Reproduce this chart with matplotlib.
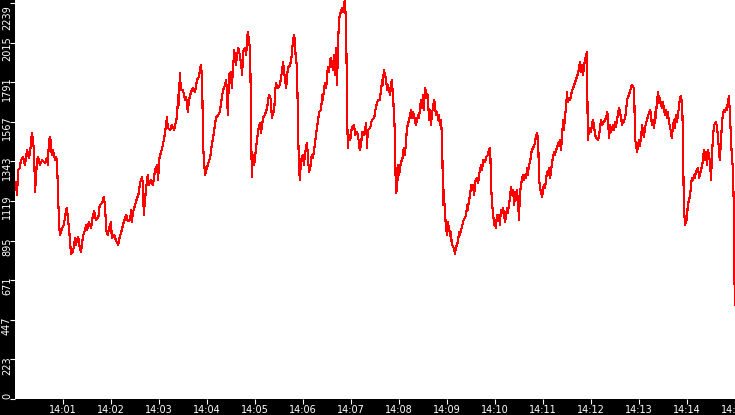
import matplotlib
matplotlib.use("Agg")
import matplotlib.pyplot as plt
from matplotlib.transforms import offset_copy

# seconds after 14:00:00 and traded value
secs = [
    0, 1, 2.5, 4, 6, 7.5, 10, 12.5, 15, 17.5, 20, 21, 22.5, 24, 25, 26, 27.5, 29, 31, 34,
    37.5, 40, 41, 42.5, 44, 46, 47.5, 50, 51, 52.5, 54, 55, 56, 59, 61, 64, 65, 66, 67.5, 70,
    72.5, 75, 76, 77.5, 79, 81, 82.5, 85, 87.5, 89, 90, 92.5, 95, 97.5, 99, 101, 104, 106, 109, 111,
    112.5, 114, 116, 117.5, 120, 121, 124, 126, 129, 130, 132.5, 135, 136, 139, 141, 144, 145, 146, 147.5, 150,
    152.5, 155,
    156, 159, 160, 161, 162.5, 164, 166, 167.5, 170, 172.5, 175, 177.5, 179, 180, 182.5, 184, 186, 187.5,
    190, 191, 194, 196, 199, 201, 202.5, 204, 205, 206, 207.5, 210, 212.5, 214, 216, 217.5, 220, 222.5,
    225, 227.5, 230, 231, 232.5, 234, 235, 237.5, 239, 241, 244, 246, 247.5, 250, 251, 254, 256, 259,
    260, 262.5, 264, 265, 266, 267.5, 270, 271, 274, 275, 276, 279, 281, 282.5, 284, 285, 287.5, 289,
    290, 291, 292.5, 294, 295, 296, 297.5, 299, 301, 304, 306,
    307.5, 310, 312.5, 315, 317.5, 320, 321, 324, 326, 329, 331, 334, 335, 337.5, 339, 341, 344, 345,
    346, 347.5, 349, 350, 351, 352.5, 354, 355, 356, 357.5, 360, 361, 364, 365, 367.5, 369, 371, 372.5,
    375, 377.5, 379, 380, 382.5, 384, 385, 386, 387.5, 389, 391, 392.5, 394, 395, 397.5, 399, 400, 401,
    402.5, 404, 405, 406, 409, 410, 411, 412.5, 414, 415, 416, 417.5, 419, 421, 424, 425, 427.5, 429,
    431, 432.5, 434, 436, 439, 440, 441, 444, 446, 449, 450, 452.5, 454,
    456, 457.5, 459, 460, 461, 464, 465, 466, 469, 470, 471, 472.5, 475, 476, 477.5, 479, 480, 482.5,
    484, 486, 487.5, 490, 491, 494, 495, 496, 497.5, 500, 501, 504, 505, 507.5, 509, 510, 511, 512.5,
    514, 515, 516, 517.5, 519, 520, 521, 524, 525, 526, 527.5, 529, 530, 531, 532.5, 534, 535, 536,
    537.5, 539, 540, 541, 542.5, 544, 545, 546, 547.5, 549, 550, 551, 552.5, 554, 555, 556, 559, 560,
    561, 564, 565, 566, 567.5, 569, 570, 571, 572.5, 574, 575, 577.5, 579, 580, 582.5, 584, 585, 587.5,
    589, 591, 592.5, 594, 595, 596, 597.5,
    599, 600, 601, 602.5, 604, 605, 606, 607.5, 609, 610, 611, 612.5, 614, 615, 616, 617.5, 619, 620,
    621, 622.5, 624, 625, 626, 627.5, 629, 630, 631, 632.5, 634, 635, 636, 637.5, 639, 640, 641, 642.5,
    644, 645, 646, 647.5, 649, 650, 651, 652.5, 654, 655, 656, 657.5, 659, 660, 661, 662.5, 664, 665,
    666, 667.5, 669, 670, 671, 672.5, 674, 675, 676, 677.5, 679, 680, 681, 682.5, 684, 685, 686, 687.5,
    689, 690, 691, 692.5, 694, 695, 696, 697.5, 699, 701, 702.5, 704, 705, 706, 707.5, 709, 710, 711,
    712.5, 714, 715, 716, 717.5, 719, 720, 721, 722.5, 724, 726, 729, 731, 732.5, 734, 736, 739, 740,
    741, 742.5, 744, 745, 747.5,
    749, 750, 751, 752.5, 754, 755, 756, 757.5, 759, 760, 761, 762.5, 764, 765, 766, 767.5, 769, 770,
    771, 772.5, 774, 775, 776, 777.5, 779, 780, 781, 782.5, 784, 785, 786, 787.5, 789, 790, 791, 792.5,
    794, 795, 796, 797.5, 799, 800, 801, 802.5, 804, 805, 806, 807.5, 809, 810, 811, 812.5, 814, 815,
    816, 817.5, 819, 820, 821, 822.5, 824, 825, 826, 827.5, 829, 830, 831, 832.5, 834, 835, 836, 837.5,
    839, 840, 841, 842.5, 844, 845, 846, 847.5, 849, 850, 851, 852.5, 854, 855, 856, 857.5, 859, 860,
    861, 862.5, 864, 865, 866, 867.5, 869, 870, 871, 872.5, 874, 875, 876, 877.5, 879, 880, 881, 882.5,
    884, 885, 886, 887.5, 889, 890, 891, 892.5, 894, 895, 896, 897.5, 899, 899.6,
]
price = [
    1182, 1227, 1153, 1295, 1306, 1351, 1368, 1323, 1408, 1363, 1436, 1504, 1464, 1380, 1170, 1238, 1351, 1368, 1323, 1351,
    1335, 1363, 1323, 1464, 1481, 1380, 1408, 1351, 1368, 1351, 1125, 1012, 927, 967, 984, 1069, 1080, 1023, 967, 820,
    831, 910, 871, 899, 916, 854, 831, 922, 956, 984, 956, 1001, 967, 1040, 1063, 1012, 1023, 1097, 1108, 1142,
    1097, 956, 927, 967, 1001, 910, 927, 899, 871, 899, 939, 984, 1001, 1040, 1006, 1012, 1069, 1001, 1057, 1097,
    1136, 1165,
    1221, 1255, 1193, 1040, 1125, 1199, 1266, 1210, 1238, 1210, 1295, 1323, 1238, 1351, 1397, 1419, 1464, 1504,
    1594, 1532, 1521, 1549, 1521, 1566, 1594, 1719, 1662, 1843, 1747, 1747, 1691, 1708, 1623, 1691, 1736, 1758,
    1736, 1804, 1821, 1860, 1888, 1804, 1436, 1266, 1295, 1323, 1368, 1436, 1476, 1549, 1589, 1606, 1623, 1719,
    1747, 1775, 1804, 1719, 1606, 1832, 1849, 1758, 1973, 1928, 1888, 1985, 1945, 1900, 1832, 1962, 1985, 1945,
    2030, 2075, 2030, 1962, 1577, 1255, 1380, 1323, 1408, 1521, 1560,
    1504, 1589, 1606, 1645, 1719, 1691, 1589, 1634, 1787, 1758, 1775, 1860, 1906, 1804, 1758, 1871, 1888, 1917,
    1945, 2030, 2058, 2018, 1917, 1888, 1481, 1323, 1238, 1351, 1380, 1323, 1436, 1447, 1283, 1306, 1380, 1363,
    1447, 1538, 1577, 1623, 1634, 1719, 1691, 1747, 1787, 1758, 1877, 1849, 1917, 1928, 1860, 1945, 1832, 1985,
    1775, 2030, 2143, 2171, 2211, 2188, 2228, 2256, 2086, 1662, 1419, 1493, 1464, 1532, 1549, 1493, 1510, 1481,
    1408, 1436, 1510, 1493, 1560, 1419, 1521, 1532, 1577, 1589, 1623, 1674, 1691,
    1691, 1747, 1804, 1775, 1860, 1804, 1747, 1775, 1719, 1775, 1804, 1719, 1493, 1165, 1182, 1323, 1266, 1340,
    1351, 1419, 1380, 1532, 1549, 1606, 1634, 1589, 1623, 1577, 1549, 1606, 1589, 1691, 1645, 1719, 1634, 1758,
    1736, 1702, 1719, 1577, 1634, 1549, 1606, 1691, 1662, 1606, 1623, 1577, 1606, 1549, 1577, 1464, 1097, 1182,
    1040, 967, 927, 1001, 967, 922, 944, 871, 865, 842, 820, 854, 871, 899, 944, 927, 978, 1001,
    1012, 1040, 1097, 1069, 1125, 1153, 1210, 1182, 1210, 1153, 1227, 1250, 1221, 1266, 1323, 1295, 1351, 1340,
    1368, 1380, 1408, 1419, 1227, 1125, 1051,
    984, 1001, 967, 1040, 1012, 1040, 984, 1069, 1051, 1080, 1057, 1001, 1040, 1080, 1051, 1097, 1153, 1199,
    1153, 1182, 1097, 1170, 1125, 1182, 1097, 1012, 1153, 1210, 1250, 1266, 1238, 1266, 1250, 1306, 1266, 1323,
    1340, 1380, 1408, 1419, 1436, 1447, 1481, 1504, 1464, 1238, 1210, 1165, 1142, 1182, 1210, 1193, 1250, 1283,
    1266, 1306, 1250, 1295, 1323, 1368, 1397, 1380, 1408, 1419, 1447, 1436, 1464, 1408, 1493, 1577, 1521, 1589,
    1662, 1736, 1680, 1702, 1691, 1719, 1736, 1758, 1775, 1804, 1821, 1849, 1866, 1906, 1849, 1888, 1832, 1871,
    1917, 1945, 1962, 1464, 1521, 1532, 1510, 1549, 1577, 1532, 1476, 1464, 1521, 1577, 1549, 1566, 1589, 1623,
    1606, 1476, 1549, 1510, 1549,
    1521, 1566, 1538, 1577, 1623, 1645, 1634, 1589, 1549, 1577, 1566, 1589, 1634, 1691, 1702, 1719, 1747, 1758,
    1775, 1770, 1747, 1464, 1453, 1397, 1436, 1464, 1430, 1476, 1549, 1510, 1481, 1532, 1566, 1577, 1594, 1617,
    1634, 1606, 1549, 1577, 1532, 1623, 1589, 1691, 1736, 1674, 1702, 1662, 1645, 1680, 1645, 1606, 1634, 1589,
    1623, 1566, 1532, 1510, 1476, 1549, 1577, 1532, 1606, 1566, 1623, 1645, 1702, 1713, 1662, 1464, 1097, 984,
    1001, 1023, 1097, 1125, 1153, 1210, 1250, 1238, 1266, 1250, 1283, 1295, 1306, 1250, 1266, 1295, 1323, 1351,
    1408, 1351, 1397, 1323, 1408, 1380, 1323, 1238, 1351, 1493, 1549, 1555, 1566, 1543, 1464, 1408, 1351, 1464,
    1577, 1606, 1634, 1623, 1645, 1634, 1680, 1713, 1577, 1464, 1380, 1295, 972, 531,
]

minute_ticks = list(range(60, 901, 60))
minute_labels = ["14:%02d" % m for m in range(1, 16)]
y_labels = ["0", "223", "447", "671", "895", "1119", "1343", "1567", "1791", "2015", "2239"]
y_step = 223.9

fig = plt.figure(figsize=(7.35, 4.15), dpi=100, facecolor="black")
ax = fig.add_axes([15 / 735, 16 / 415, 720 / 735, 399 / 415])
ax.set_facecolor("white")
ax.plot(secs, price, color="red", lw=0.8, antialiased=False)
ax.set_xlim(0, 900)
ax.set_ylim(0, 2256)
for sp in ax.spines.values():
    sp.set_visible(False)

ax.set_xticks(minute_ticks)
ax.set_xticklabels(minute_labels)
ax.tick_params(axis="x", colors="white", length=3.6, width=0.8, pad=0.5, labelsize=7)

y_ticks = [i * y_step for i in range(len(y_labels))]
ax.set_yticks(y_ticks)
ax.set_yticklabels([])
ax.tick_params(axis="y", colors="white", length=3.6, width=0.8)

ytr = ax.get_yaxis_transform()
for i, (v, lab) in enumerate(zip(y_ticks, y_labels)):
    if i == 0:
        # bottom label sits just above the axis floor
        tr, va = offset_copy(ytr, fig=fig, x=-8, y=0, units="dots"), "bottom"
    elif i == len(y_labels) - 1:
        # top label kept inside the figure
        tr, va = offset_copy(ytr, fig=fig, x=-8, y=-2, units="dots"), "top"
    else:
        tr, va = offset_copy(ytr, fig=fig, x=-8, y=-6, units="dots"), "center"
    ax.text(0, v, lab, transform=tr, rotation=90, ha="center", va=va,
            color="white", fontsize=7)

fig.savefig("out.png", dpi=100, facecolor="black")
